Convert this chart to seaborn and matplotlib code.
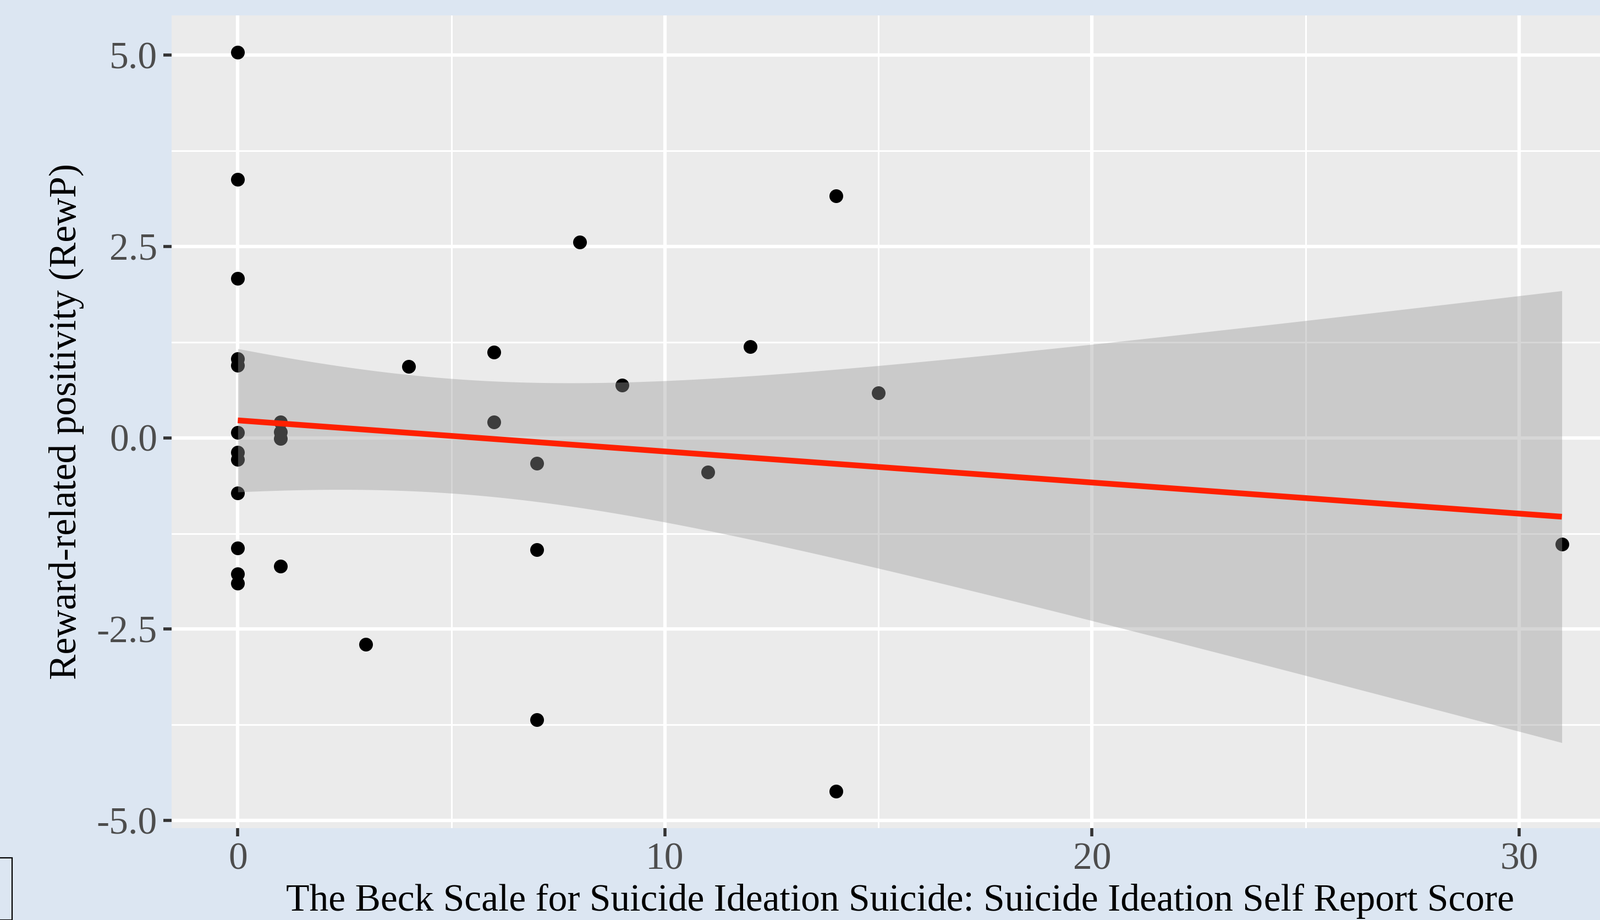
import numpy as np
import pandas as pd
import matplotlib
matplotlib.use("Agg")
import matplotlib.pyplot as plt
import seaborn as sns
from matplotlib.patches import Rectangle

# ---- data ----
bss_score = [0] * 12 + [1] * 4 + [3, 4, 6, 6, 7, 7, 7, 8, 9, 11, 12, 14, 14, 15, 31]
rewp = [5.04, 3.38, 2.08, 1.03, 0.95, 0.07, -0.19, -0.28, -0.72, -1.44, -1.78, -1.90,
        0.21, 0.08, -0.01, -1.68,
        -2.70, 0.93, 1.12, 0.21, -0.33, -1.46, -3.68, 2.56, 0.69, -0.45, 1.19,
        3.16, -4.62, 0.59, -1.39]

x_major = [0, 10, 20, 30]
x_minor = [5, 15, 25]
y_major = [-5.0, -2.5, 0.0, 2.5, 5.0]
y_minor = [-3.75, -1.25, 1.25, 3.75]
y_ticklabels = ["-5.0", "-2.5", "0.0", "2.5", "5.0"]

x_label = "The Beck Scale for Suicide Ideation Suicide: Suicide Ideation Self Report Score"
y_label = "Reward-related positivity (RewP)"

df = pd.DataFrame({"bss": bss_score, "rewp": rewp})

# ---- figure ----
sns.set_theme(style="darkgrid")
plt.rcParams["font.family"] = ["Liberation Serif", "DejaVu Serif"]

W, H = 2909, 1672
fig = plt.figure(figsize=(W / 100, H / 100), dpi=100)
fig.patch.set_facecolor("#dce6f2")

ax = fig.add_axes([312 / W, (H - 1505) / H, (2960 - 312) / W, (1505 - 28) / H])
ax.set_facecolor("#ebebeb")
ax.set_axisbelow(True)

# points
sns.scatterplot(data=df, x="bss", y="rewp", color="black", s=324,
                linewidth=0, ax=ax, zorder=2)

# analytic 95% confidence band (as in geom_smooth(method = "lm"))
xv = np.asarray(df["bss"], float)
yv = np.asarray(df["rewp"], float)
n = len(xv)
b1, b0 = np.polyfit(xv, yv, 1)
resid = yv - (b0 + b1 * xv)
s_err = np.sqrt(np.sum(resid ** 2) / (n - 2))
xg = np.linspace(xv.min(), xv.max(), 200)
se = s_err * np.sqrt(1 / n + (xg - xv.mean()) ** 2 / np.sum((xv - xv.mean()) ** 2))
tval = 2.045
yg = b0 + b1 * xg
ax.fill_between(xg, yg - tval * se, yg + tval * se, color="#999999", alpha=0.4,
                linewidth=0, zorder=3)

# regression line
sns.regplot(data=df, x="bss", y="rewp", scatter=False, ci=None, truncate=True,
            color="#ff2000", line_kws={"linewidth": 7.5, "zorder": 4,
                                       "solid_capstyle": "butt"}, ax=ax)

ax.set_xlim(-1.55, 32.55)
ax.set_ylim(-5.10, 5.52)
ax.set_xticks(x_major)
ax.set_xticks(x_minor, minor=True)
ax.set_yticks(y_major)
ax.set_yticklabels(y_ticklabels)
ax.set_yticks(y_minor, minor=True)

ax.grid(which="major", color="white", linewidth=4.5)
ax.grid(which="minor", color="white", linewidth=2.2)
for s in ax.spines.values():
    s.set_visible(False)

ax.tick_params(which="major", length=10.8, width=4, color="#333333",
               labelsize=50, labelcolor="#4d4d4d", pad=8,
               bottom=True, left=True)
ax.tick_params(which="minor", length=0)

ax.set_xlabel(x_label, fontsize=50, color="black", labelpad=8)
ax.set_ylabel(y_label, fontsize=50, color="black", labelpad=16)

# small framed box in the lower-left corner
fig.patches.append(Rectangle((-10 / W, 0), 32 / W, (H - 1559) / H,
                             transform=fig.transFigure, fill=False,
                             edgecolor="black", linewidth=1.6))

fig.savefig("out.png", dpi=100, facecolor=fig.get_facecolor())
